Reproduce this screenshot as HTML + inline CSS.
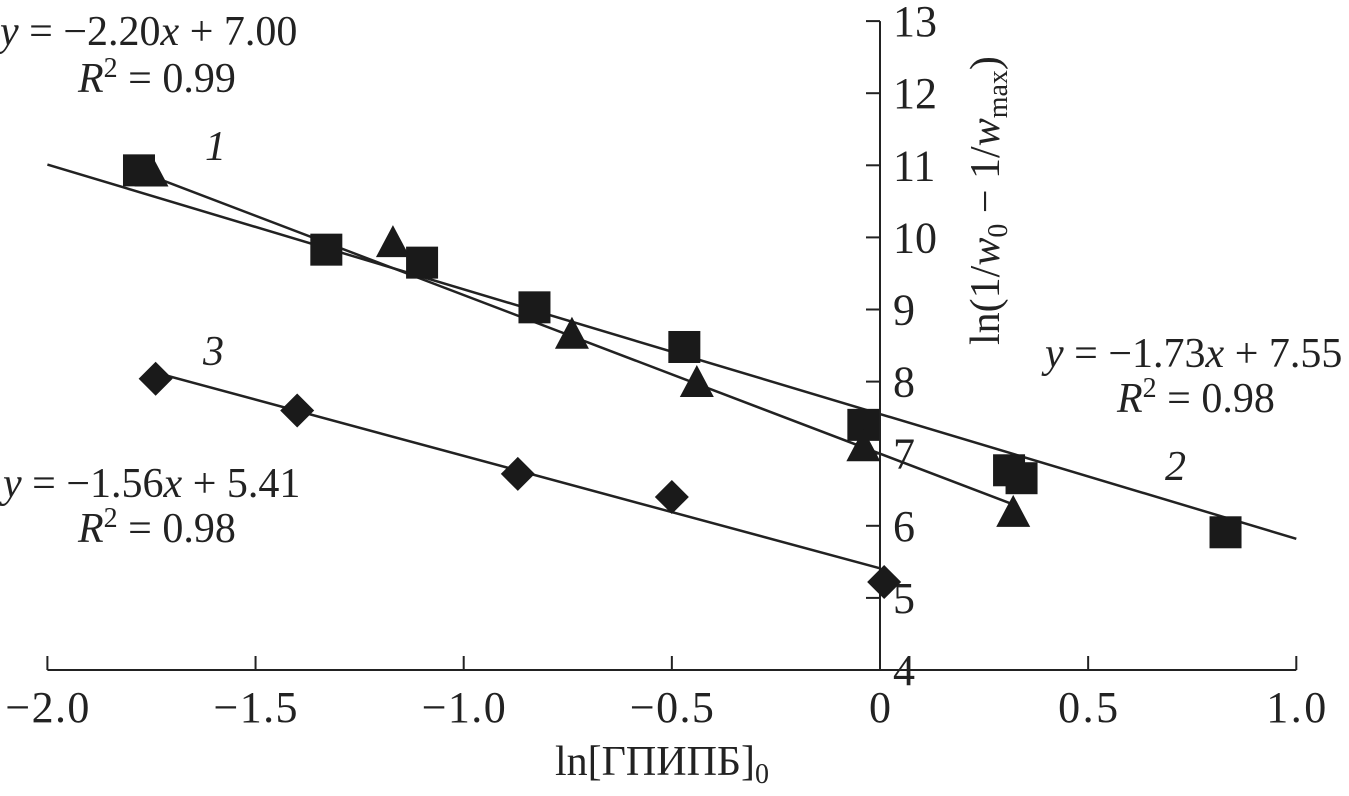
<!DOCTYPE html>
<html><head><meta charset="utf-8"><style>
body{margin:0;background:#fff}
svg text{font-family:"Liberation Serif",serif;fill:#222}
</style></head><body>
<svg width="1349" height="791" xmlns="http://www.w3.org/2000/svg">
<g id="g"></g>
</svg>
<script>
const xTicks=[-2.0,-1.5,-1.0,-0.5,0,0.5,1.0];
const xTickLabels=["−2.0","−1.5","−1.0","−0.5","0","0.5","1.0"];
const yTicks=[4,5,6,7,8,9,10,11,12,13];
const sqX=[-1.78,-1.33,-1.10,-0.83,-0.47,-0.04,0.31,0.34,0.83];
const sqY=[10.93,9.83,9.65,9.03,8.48,7.40,6.77,6.66,5.91];
const triX=[-1.75,-1.17,-0.74,-0.44,-0.04,0.32];
const triY=[10.9,9.92,8.65,7.98,7.09,6.18];
const diaX=[-1.74,-1.40,-0.87,-0.50,0.01];
const diaY=[8.04,7.6,6.72,6.4,5.22];
const fit1=[-2.20,7.00,-1.77,0.32];
const fit2=[-1.73,7.55,-2.0,1.0];
const fit3=[-1.56,5.41,-1.75,0.0];
const X=v=>880+v*416.3, Y=v=>670-(v-4)*72.1;
const g=document.getElementById('g');
function el(t,a,txt){const e=document.createElementNS('http://www.w3.org/2000/svg',t);for(const k in a)e.setAttribute(k,a[k]);if(txt!=null)e.innerHTML=txt;g.appendChild(e);return e;}
let e;
e=el('line',{x1:X(-2),x2:X(1),y1:670,y2:670,stroke:'#222','stroke-width':2});


e=el('line',{x1:880,x2:880,y1:Y(4),y2:Y(13),stroke:'#222','stroke-width':2});


xTicks.forEach((v,i)=>{
 el('line',{x1:X(v),x2:X(v),y1:656,y2:670,stroke:'#222','stroke-width':2});
 e=el('text',{x:X(v),y:722,'font-size':44,'text-anchor':'middle','textLength':v<0?84:(v===0?22:60)},xTickLabels[i]);
 
 
});
yTicks.forEach(v=>{
 el('line',{x1:866,x2:880,y1:Y(v),y2:Y(v),stroke:'#222','stroke-width':2});
 e=el('text',{x:893,y:Y(v)+15,'font-size':44},v);
 
 
});
[fit1,fit2,fit3].forEach((f,i)=>{
 e=el('line',{x1:X(f[2]),y1:Y(f[0]*f[2]+f[1]),x2:X(f[3]),y2:Y(f[0]*f[3]+f[1]),stroke:'#222','stroke-width':2.5});
 
 
});
sqX.forEach((x,i)=>{
 e=el('rect',{x:X(x)-16,y:Y(sqY[i])-16,width:32,height:32,fill:'#1a1a1a'});
 
 
});
triX.forEach((x,i)=>{
 const cx=X(x),cy=Y(triY[i]);
 e=el('polygon',{points:`${cx},${cy-18} ${cx-17},${cy+14} ${cx+17},${cy+14}`,fill:'#1a1a1a'});
 
 
});
diaX.forEach((x,i)=>{
 const cx=X(x),cy=Y(diaY[i]);
 e=el('polygon',{points:`${cx},${cy-17} ${cx+17},${cy} ${cx},${cy+17} ${cx-17},${cy}`,fill:'#1a1a1a'});
 
 
});
const labels=[
 [0,45,'<tspan font-style="italic">y</tspan> = −2.20<tspan font-style="italic">x</tspan> + 7.00','eq-1',308],
 [78,92,'<tspan font-style="italic">R</tspan><tspan dy="-15" font-size="28">2</tspan><tspan dy="15"> = 0.99</tspan>','r2-1',158],
 [1045,367,'<tspan font-style="italic">y</tspan> = −1.73<tspan font-style="italic">x</tspan> + 7.55','eq-2',305],
 [1117,412,'<tspan font-style="italic">R</tspan><tspan dy="-15" font-size="28">2</tspan><tspan dy="15"> = 0.98</tspan>','r2-2',160],
 [3,497,'<tspan font-style="italic">y</tspan> = −1.56<tspan font-style="italic">x</tspan> + 5.41','eq-3',305],
 [78,542,'<tspan font-style="italic">R</tspan><tspan dy="-15" font-size="28">2</tspan><tspan dy="15"> = 0.98</tspan>','r2-3',158],
 [205,160,'<tspan font-style="italic">1</tspan>','series-label-1',0],
 [1165,480,'<tspan font-style="italic">2</tspan>','series-label-2',0],
 [203,365,'<tspan font-style="italic">3</tspan>','series-label-3',0],
 [555,775,'ln[ГПИПБ]<tspan dy="8" font-size="28">0</tspan>','x-axis-title',0]
];
labels.forEach(l=>{
 e=el('text',{x:l[0],y:l[1],'font-size':42},l[2]);
 
 
});
e=el('text',{x:0,y:0,'font-size':42,transform:'translate(999,345) rotate(-90)'},'ln(1/<tspan font-style="italic">w</tspan><tspan dy="8" font-size="28">0</tspan><tspan dy="-8"> − 1/</tspan><tspan font-style="italic">w</tspan><tspan dy="8" font-size="28">max</tspan><tspan dy="-8">)</tspan>');


</script>
</body></html>
